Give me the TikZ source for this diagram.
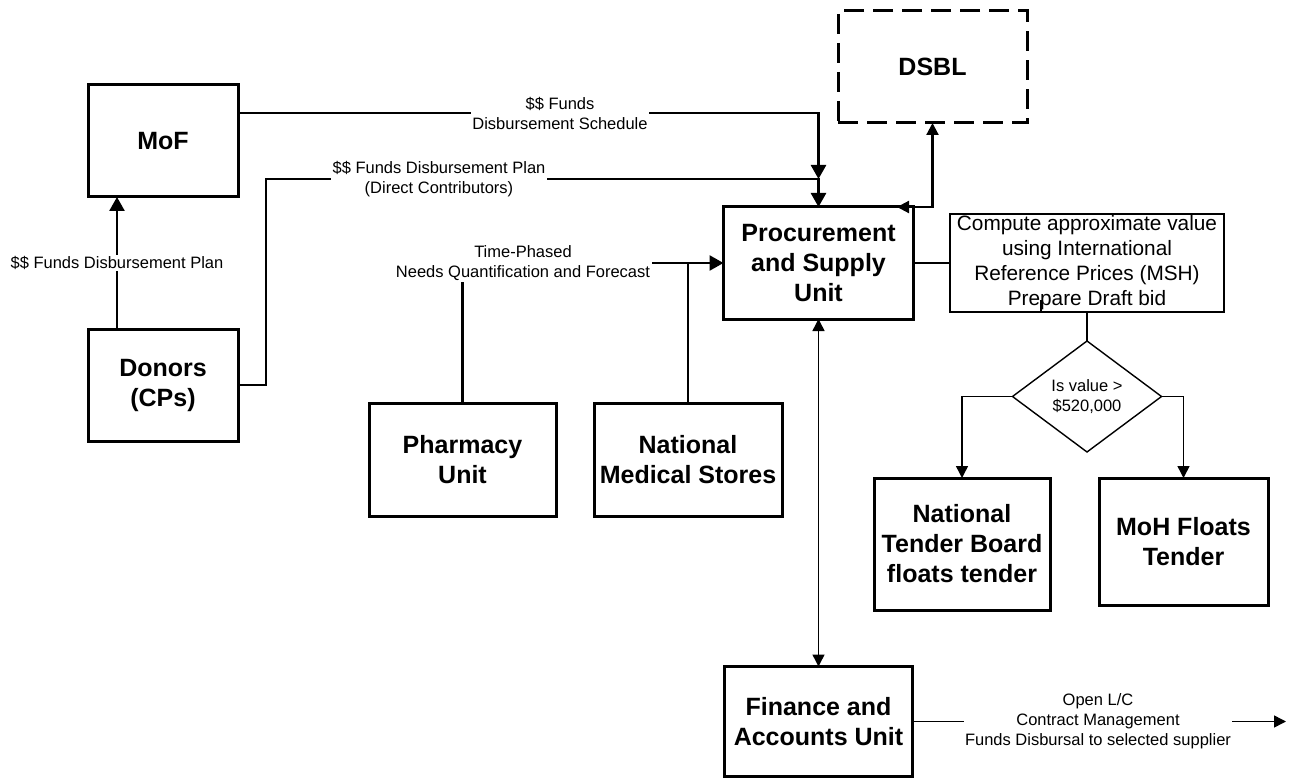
\documentclass[tikz,border=0pt]{standalone}
\usepackage{fontspec}
\setmainfont{Liberation Sans}
\usetikzlibrary{arrows.meta,shapes.geometric}

\begin{document}
\begin{tikzpicture}[x=1pt,y=-1pt,
  box/.style={draw, line width=3pt, align=center, inner sep=0pt, outer sep=0pt,
    font=\fontsize{25}{30}\selectfont\bfseries},
  dbox/.style={box, dash pattern=on 20pt off 9pt},
  cbox/.style={draw, line width=2.4pt, align=center, inner sep=0pt, outer sep=0pt,
    font=\fontsize{20.8}{25}\selectfont},
  dia/.style={draw, diamond, line width=1.4pt, align=center, inner sep=0pt, outer sep=0pt,
    font=\fontsize{16.5}{20}\selectfont},
  lbl/.style={fill=white, align=center, inner sep=1.5pt,
    font=\fontsize{16.5}{20}\selectfont},
  thk/.style={line width=2.6pt},
  med/.style={line width=2.2pt},
  thn/.style={line width=1.5pt},
  arL/.style={-{Triangle[length=14pt,width=15pt]}},
  arM2/.style={{Triangle[length=12pt,width=12pt]}-{Triangle[length=12pt,width=12pt]}},
  arS/.style={-{Triangle[length=12pt,width=12pt]}},
  arS2/.style={{Triangle[length=12pt,width=12pt]}-{Triangle[length=12pt,width=12pt]}}]

\useasboundingbox (0,0) rectangle (1296,778);

% organisation boxes
\node[box, minimum width=150pt, minimum height=112pt] (mof) at (163,141) {MoF};
\node[box, minimum width=150pt, minimum height=112pt] (don) at (163,385) {Donors\\(CPs)};
\node[dbox, minimum width=189pt, minimum height=112pt] (dsbl) at (932.5,67) {DSBL};
\node[box, minimum width=190pt, minimum height=112pt] (psu) at (818.5,263) {Procurement\\and Supply\\Unit};
\node[cbox, minimum width=274pt, minimum height=98pt] (cmp) at (1087,263)
  {Compute approximate value\\using International\\Reference Prices (MSH)\\Prepare Draft bid};
\node[dia, minimum width=149pt, minimum height=111pt, shape aspect=1.34] (val) at (1087,396.5)
  {Is value >\\\$520,000};
\node[box, minimum width=187pt, minimum height=113pt] (pha) at (462.5,459.5) {Pharmacy\\Unit};
\node[box, minimum width=188pt, minimum height=113pt] (nms) at (688,459.5) {National\\Medical Stores};
\node[box, minimum width=176pt, minimum height=132pt] (ntb) at (962,544) {National\\Tender Board\\floats tender};
\node[box, minimum width=169pt, minimum height=127pt] (moh) at (1183.5,541.5) {MoH Floats\\Tender};
\node[box, minimum width=188pt, minimum height=110pt] (fin) at (818.5,721.5) {Finance and\\Accounts Unit};

% helper points for the routed connectors
\coordinate (xdon) at (117,0);
\coordinate (ymof) at (0,113);
\coordinate (xdl) at (266,0);
\coordinate (jn) at (818.5,179);
\coordinate (dsend) at (897,207);
\coordinate (finend) at (1286,721.5);

% funding flows
\draw[thk, arL] (don.north -| xdon) -- (mof.south -| xdon);
\draw[thk, arL] (mof.east |- ymof) -| (jn);
\draw[thk, arL] (don.east) -| (xdl |- jn) -| (psu.north);

% DSBL link
\draw[med, arM2] (dsbl.south) |- (dsend);

% needs quantification
\draw[thk, arL] (pha.north) |- (psu.west);
\draw[thk] (nms.north) -- (nms.north |- psu.west);

% bid preparation and tender decision
\draw[thn] (psu.east) -- (cmp.west);
\draw[thn] (cmp.south) -- (val.north);
\draw[thn] (1041,312) -- (1041,300);
\draw[thn, arS] (val.west) -| (ntb.north);
\draw[thn, arS] (val.east) -| (moh.north);

% finance
\draw[thn, arS2] (psu.south) -- (fin.north);
\draw[thn, arS] (fin.east) -- (finend);

% connector labels
\node[lbl] at (560,113) {\$\$ Funds\\Disbursement Schedule};
\node[lbl] at (439,179) {\$\$ Funds Disbursement Plan\\(Direct Contributors)};
\node[lbl] at (117,263) {\$\$ Funds Disbursement Plan};
\node[lbl] at (523,263) {Time-Phased\\Needs Quantification and Forecast};
\node[lbl] at (1098,721.5) {Open L/C\\Contract Management\\Funds Disbursal to selected supplier};
\end{tikzpicture}
\end{document}
